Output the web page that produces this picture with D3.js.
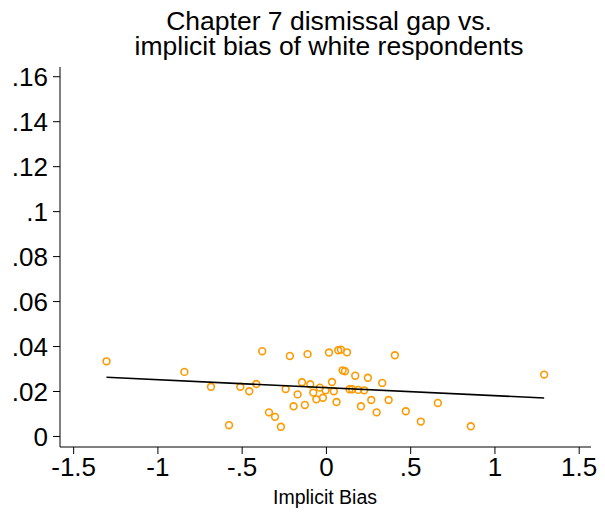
<!DOCTYPE html>
<html><head><meta charset="utf-8">
<script src="https://cdn.jsdelivr.net/npm/d3@7"></script>
<style>body{margin:0;background:#fff}svg{display:block}text{font-family:"Liberation Sans",Arial,Helvetica,sans-serif;fill:#000}</style>
</head><body>
<script>
const titleLines = ["Chapter 7 dismissal gap vs.", "implicit bias of white respondents"];
const xLabel = "Implicit Bias";
const xTicks = [-1.5, -1, -0.5, 0, 0.5, 1, 1.5];
const yTicks = [0, 0.02, 0.04, 0.06, 0.08, 0.1, 0.12, 0.14, 0.16];
const biasX = [-1.302,-0.840,-0.682,-0.508,-0.455,-0.413,-0.378,-0.575,-0.338,-0.302,-0.267,-0.214,-0.239,-0.192,-0.168,-0.142,-0.125,-0.109,-0.093,-0.075,-0.057,-0.036,-0.018,-0.002,0.018,0.036,0.047,0.063,0.073,0.089,0.125,0.099,0.113,0.140,0.156,0.174,0.192,0.208,0.227,0.249,0.269,0.301,0.334,0.372,0.409,0.474,0.563,0.664,0.860,1.295];
const gapY = [0.0332,0.0285,0.0219,0.0219,0.0199,0.0231,0.0377,0.0048,0.0105,0.0085,0.0041,0.0356,0.0209,0.0132,0.0185,0.0239,0.0138,0.0364,0.0230,0.0193,0.0163,0.0215,0.0170,0.0203,0.0371,0.0240,0.0199,0.0151,0.0381,0.0384,0.0372,0.0292,0.0288,0.0208,0.0208,0.0268,0.0205,0.0132,0.0203,0.0259,0.0160,0.0105,0.0236,0.0160,0.0359,0.0110,0.0064,0.0147,0.0043,0.0273];
const fitX = [-1.302, 1.295];
const fitY = [0.0261, 0.0169];

const W = 605, H = 513;
const svg = d3.select("body").append("svg").attr("width", W).attr("height", H);
const x = d3.scaleLinear().domain([-1.578, 1.573]).range([60, 591]);
const y = d3.scaleLinear().domain([-0.0049, 0.1641]).range([447, 67]);
const fmt = v => v === 0 ? "0" : String(+v.toFixed(3)).replace(/^(-?)0\./, "$1.");

// title
svg.append("text").attr("text-anchor","middle").attr("font-size",26.5)
  .selectAll("tspan").data(titleLines).join("tspan")
  .attr("x", 329).attr("y", (d,i)=> 30 + i*25).text(d=>d);

// axes
const xAxis = svg.append("g").attr("transform","translate(0,447)")
  .call(d3.axisBottom(x).tickValues(xTicks).tickFormat(fmt).tickSize(7).tickPadding(4));
const yAxis = svg.append("g").attr("transform","translate(60,0)")
  .call(d3.axisLeft(y).tickValues(yTicks).tickFormat(fmt).tickSize(7).tickPadding(5));
[xAxis, yAxis].forEach(g => {
  g.selectAll("text").attr("font-size",26).attr("font-family",'"Liberation Sans",Arial,sans-serif').attr("fill","#000");
  g.selectAll("line").attr("stroke","#000");
  g.select(".domain").attr("stroke","#000").attr("d", null);
});
xAxis.select(".domain").attr("d", `M${x.range()[0]},0H${x.range()[1]}`);
yAxis.select(".domain").attr("d", `M0,${y.range()[0]}V${y.range()[1]}`);
xAxis.selectAll("text").attr("dy","0.71em");
yAxis.selectAll("text").attr("dy","0.35em");

svg.append("text").attr("x",325).attr("y",504).attr("text-anchor","middle").attr("font-size",19.5).text(xLabel);

// points
svg.append("g").selectAll("circle").data(biasX).join("circle")
  .attr("cx", d => x(d)).attr("cy", (d,i) => y(gapY[i])).attr("r", 3.4)
  .attr("fill","none").attr("stroke","#ff9900").attr("stroke-width",1.6);

// fit line
svg.append("path").attr("d", d3.line().x(d=>x(d)).y((d,i)=>y(fitY[i]))(fitX))
  .attr("stroke","#000").attr("stroke-width",1.6).attr("fill","none");
</script>
</body></html>
